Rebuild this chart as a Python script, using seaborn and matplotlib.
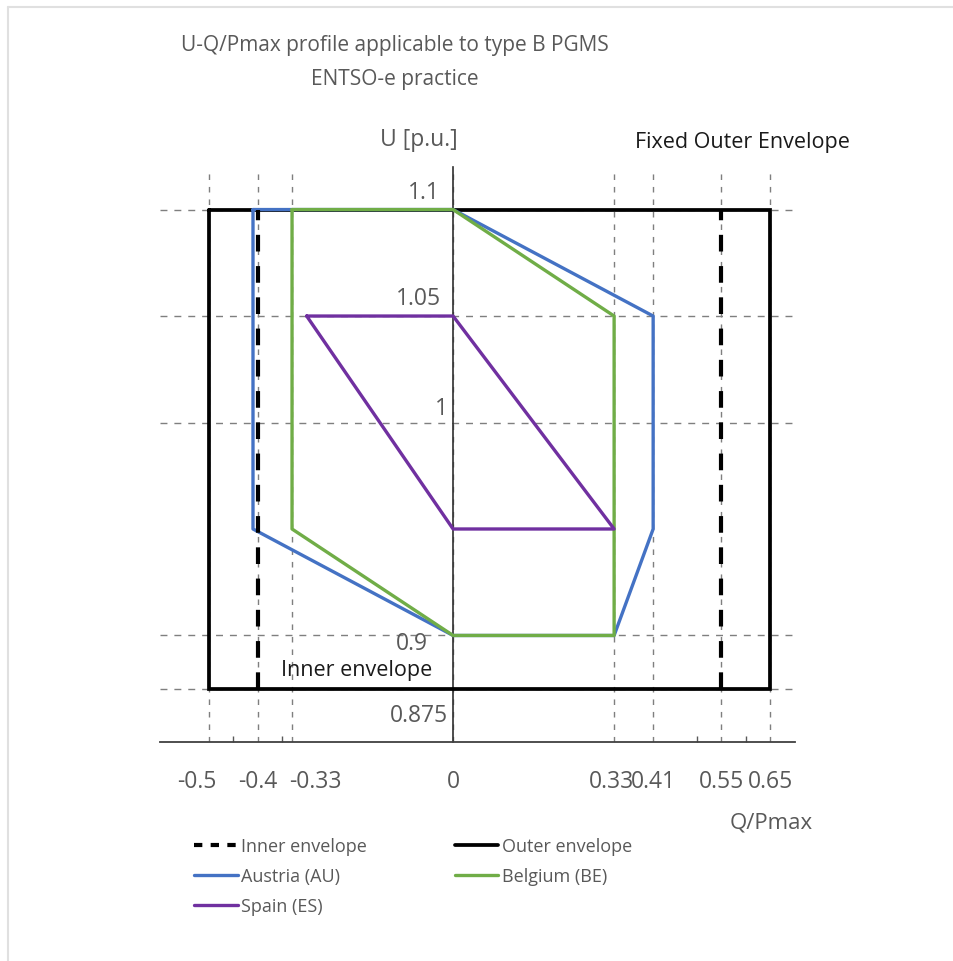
import matplotlib
matplotlib.use('Agg')
import matplotlib.pyplot as plt
from matplotlib.lines import Line2D
import numpy as np
import pandas as pd
import seaborn as sns

# envelopes
outer_q = [-0.5, 0.65, 0.65, -0.5, -0.5]
outer_u = [1.1, 1.1, 0.875, 0.875, 1.1]
inner_q = [-0.4, 0.55]
inner_u = [0.875, 1.1]

# country profiles (closed polygons)
au_q = [-0.41, 0, 0.41, 0.41, 0.33, 0, -0.41, -0.41]
au_u = [1.1, 1.1, 1.05, 0.95, 0.9, 0.9, 0.95, 1.1]
be_q = [-0.33, 0, 0.33, 0.33, 0, -0.33, -0.33]
be_u = [1.1, 1.1, 1.05, 0.9, 0.9, 0.95, 1.1]
es_q = [-0.3, 0, 0.33, 0, -0.3]
es_u = [1.05, 1.05, 0.95, 0.95, 1.05]

x_ticks = [-0.5, -0.4, -0.33, 0, 0.33, 0.41, 0.55, 0.65]
x_labels = ['-0.5', '-0.4', '-0.33', '0', '0.33', '0.41', '0.55', '0.65']
y_ticks = [0.875, 0.9, 1.0, 1.05, 1.1]
y_labels = ['0.875', '0.9', '1', '1.05', '1.1']
minor_x = [-0.45, -0.35, 0.5, 0.6]

colors = {'Austria (AU)': '#4472C4', 'Belgium (BE)': '#70AD47', 'Spain (ES)': '#7030A0'}

df = pd.concat([
    pd.DataFrame({'q': au_q, 'u': au_u, 'country': 'Austria (AU)'}),
    pd.DataFrame({'q': be_q, 'u': be_u, 'country': 'Belgium (BE)'}),
    pd.DataFrame({'q': es_q, 'u': es_u, 'country': 'Spain (ES)'}),
], ignore_index=True)

sns.set_theme(style='white')
plt.rcParams['font.family'] = ['Open Sans', 'DejaVu Sans']
txt = '#595959'
fs_tick = 16.5

fig = plt.figure(figsize=(9.54, 9.62), dpi=100)
ax = fig.add_axes([0.168, 0.2277, 0.665, 0.5977])

# grid
ax.set_xlim(-0.6, 0.7)
ax.set_ylim(0.85, 1.12)
ax.set_xticks(x_ticks)
ax.set_xticklabels([])
ax.set_xticks(minor_x, minor=True)
ax.set_yticks(y_ticks)
ax.set_yticklabels([])
ax.grid(True, which='major', axis='x', color='#7f7f7f', lw=1, ls=(0, (4, 5)))
ax.grid(True, which='major', axis='y', color='#7f7f7f', lw=1, ls=(0, (5, 5)))
ax.tick_params(axis='x', which='major', direction='in', length=5, color='#595959')
ax.tick_params(axis='x', which='minor', direction='in', length=4, color='#595959', bottom=True)
ax.tick_params(axis='y', length=0)

for s in ['top', 'right']:
    ax.spines[s].set_visible(False)
ax.spines['bottom'].set_color('#404040')
ax.spines['bottom'].set_linewidth(1.3)
ax.spines['left'].set_position(('data', 0))
ax.spines['left'].set_color('#303030')
ax.spines['left'].set_linewidth(1.2)

ax.plot(outer_q, outer_u, color='black', lw=2.7, zorder=3, solid_joinstyle='miter')
sns.lineplot(data=df, x='q', y='u', hue='country', palette=colors, sort=False,
             estimator=None, lw=2.4, legend=False, ax=ax, zorder=4)
for q in inner_q:
    ax.plot([q, q], inner_u, color='black', lw=3, ls=(0, (4, 3.5)), zorder=5)

# x labels, nudged sideways where they would collide (as in the source)
x_dx = [-12, 0, 23, 0, -3, 0, 0, 0]
for val, lab, dx in zip(x_ticks, x_labels, x_dx):
    ax.annotate(lab, xy=(val, 0), xytext=(dx, -39), textcoords='offset pixels',
                xycoords=('data', 'axes fraction'),
                ha='center', va='center', fontsize=fs_tick, color=txt)

# y value labels next to the axis
y_off = [(-5, -26), (-25, -8), (-5, 15), (-12, 18), (-13, 18)]
for val, lab, (dx, dy) in zip(y_ticks, y_labels, y_off):
    ax.annotate(lab, xy=(0, val), xytext=(dx, dy), textcoords='offset pixels',
                ha='right', va='center', fontsize=fs_tick, color=txt)

ax.set_xlabel('')
ax.set_ylabel('')

fig.text(0.414, 0.953, 'U-Q/Pmax profile applicable to type B PGMS', ha='center', va='center',
         fontsize=15, color=txt)
fig.text(0.414, 0.917, 'ENTSO-e practice', ha='center', va='center', fontsize=15, color=txt)
fig.text(0.48, 0.854, 'U [p.u.]', ha='right', va='center', fontsize=16.5, color=txt)
fig.text(0.778, 0.852, 'Fixed Outer Envelope', ha='center', va='center', fontsize=15.5, color='#1a1a1a')
fig.text(0.374, 0.303, 'Inner envelope', ha='center', va='center', fontsize=15.5, color='#1a1a1a')
fig.text(0.808, 0.145, 'Q/Pmax', ha='center', va='center', fontsize=16, color=txt)

handles = [
    Line2D([], [], color='black', lw=3, ls=(0, (2, 2))),
    Line2D([], [], color=colors['Austria (AU)'], lw=2.4),
    Line2D([], [], color=colors['Spain (ES)'], lw=2.4),
    Line2D([], [], color='black', lw=2.7),
    Line2D([], [], color=colors['Belgium (BE)'], lw=2.4),
]
labels = ['Inner envelope', 'Austria (AU)', 'Spain (ES)', 'Outer envelope', 'Belgium (BE)']
leg = fig.legend(handles, labels, ncol=2, loc='upper left', bbox_to_anchor=(0.196, 0.136),
                 frameon=False, fontsize=13, handlelength=2.4, handletextpad=0.2,
                 columnspacing=4.85, labelspacing=0.65, borderaxespad=0)
for t in leg.get_texts():
    t.set_color(txt)

# faint frame on top and left
fig.add_artist(Line2D([0.008, 1], [0.992, 0.992], color='#e0e0e0', lw=1.5))
fig.add_artist(Line2D([0.008, 0.008], [0, 0.992], color='#e0e0e0', lw=1.5))

fig.savefig('out.png', dpi=100)
